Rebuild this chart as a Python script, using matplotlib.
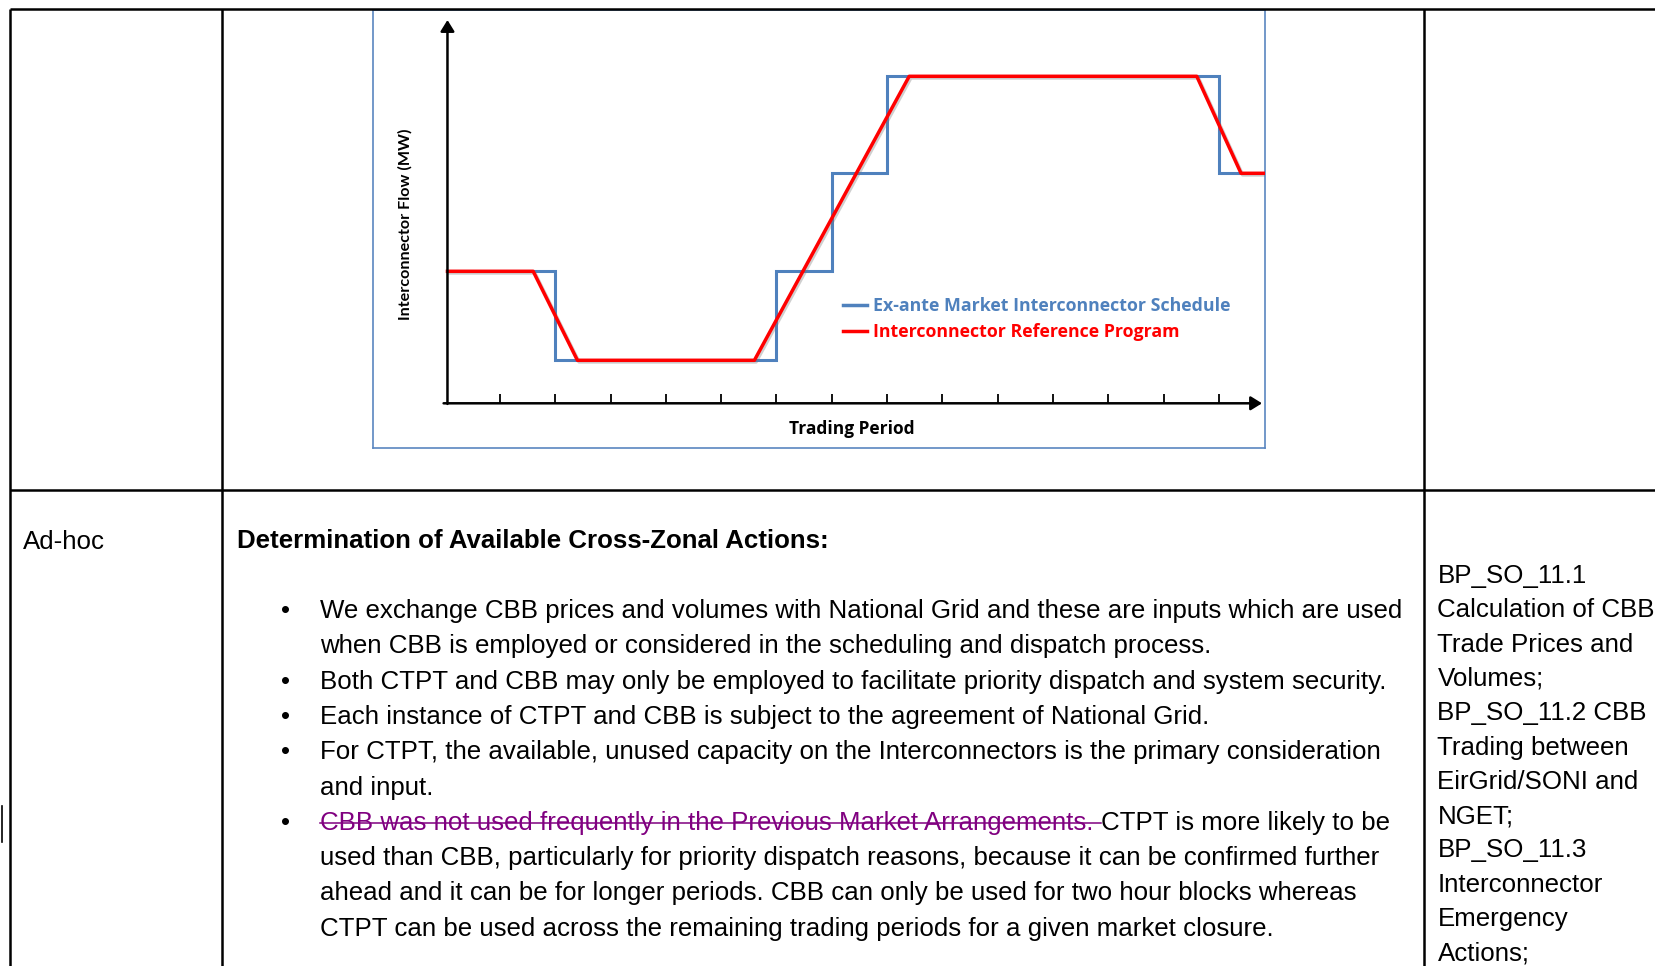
import numpy as np
import matplotlib
matplotlib.use("Agg")
import matplotlib.pyplot as plt
import matplotlib.patheffects as pe
from matplotlib.lines import Line2D

# ---------------- chart data ----------------
period_edges = [0.05, 1, 2, 3, 4, 5, 6, 7, 8, 9, 10, 11, 12, 13, 14, 14.84]
schedule_mw = [132, 132, 43, 43, 43, 43, 132, 230, 327, 327, 327, 327, 327, 327, 230, 230]
ref_x = [0.05, 1.6, 2.4, 5.6, 8.4, 13.6, 14.4, 14.84]
ref_mw = [132, 132, 43, 43, 327, 327, 230, 230]
tick_periods = list(range(1, 15))
series_labels = ["Ex-ante Market Interconnector Schedule", "Interconnector Reference Program"]
series_colors = ["#4F81BD", "#FF0000"]
y_title = "Interconnector Flow (MW)"
x_title = "Trading Period"

# ---------------- table text ----------------
row_label = "Ad-hoc"
heading = "Determination of Available Cross-Zonal Actions:"
body_lines = [
    "We exchange CBB prices and volumes with National Grid and these are inputs which are used",
    "when CBB is employed or considered in the scheduling and dispatch process.",
    "Both CTPT and CBB may only be employed to facilitate priority dispatch and system security.",
    "Each instance of CTPT and CBB is subject to the agreement of National Grid.",
    "For CTPT, the available, unused capacity on the Interconnectors is the primary consideration",
    "and input.",
    None,
    "used than CBB, particularly for priority dispatch reasons, because it can be confirmed further",
    "ahead and it can be for longer periods. CBB can only be used for two hour blocks whereas",
    "CTPT can be used across the remaining trading periods for a given market closure.",
]
bullet_flags = [True, False, True, True, True, False, True, False, False, False]
struck_text = "CBB was not used frequently in the Previous Market Arrangements."
after_struck = "CTPT is more likely to be"
ref_lines = [
    "BP_SO_11.1", "Calculation of CBB", "Trade Prices and", "Volumes;",
    "BP_SO_11.2 CBB", "Trading between", "EirGrid/SONI and", "NGET;",
    "BP_SO_11.3", "Interconnector", "Emergency", "Actions;",
]

W, H = 1656, 966
fig = plt.figure(figsize=(W / 100, H / 100), dpi=100)
fig.patch.set_facecolor("white")

# ---------------- embedded chart ----------------
fx0, fx1, fy0, fy1 = 373.5, 1265.5, 9.5, 448.0
ax = fig.add_axes([fx0 / W, 1 - fy1 / H, (fx1 - fx0) / W, (fy1 - fy0) / H])
x_origin, x_step, y_origin = 444.7, 55.3, 403.3
ax.set_xlim((fx0 - x_origin) / x_step, (fx1 - x_origin) / x_step)
ax.set_ylim(y_origin - fy1, y_origin - fy0)
ax.set_xticks([])
ax.set_yticks([])
for s in ax.spines.values():
    s.set_color("#5A86C0")
    s.set_linewidth(1.2)

ax.step(period_edges, schedule_mw, where="post", color=series_colors[0], lw=2.2,
        solid_joinstyle="miter", zorder=3)
ax.plot(ref_x, ref_mw, color=series_colors[1], lw=2.5, zorder=4,
        path_effects=[pe.SimpleLineShadow(offset=(1.2, -1.2), shadow_color="#777777", alpha=0.35),
                      pe.Normal()])

arrow_kw = dict(arrowstyle="-|>,head_length=0.42,head_width=0.26", lw=1.8, color="black",
                shrinkA=0, shrinkB=0, mutation_scale=16)
ax.annotate("", xy=(0.05, 383.3), xytext=(0.05, -0.6), arrowprops=arrow_kw, zorder=5)
ax.annotate("", xy=(14.78, 0), xytext=(-0.02, 0), arrowprops=arrow_kw, zorder=5)
ax.vlines(tick_periods, 0, 9, color="black", lw=1.3, zorder=5)

ax.text((405.5 - x_origin) / x_step, y_origin - 224.7, y_title, rotation=90,
        ha="center", va="center", family="Lato", weight="bold", fontsize=11.6)
ax.text((851.5 - x_origin) / x_step, y_origin - 434, x_title, ha="center", va="baseline",
        family="Open Sans", weight="bold", fontsize=12.5)

handles = [Line2D([], [], color=c, lw=2.5) for c in series_colors]
leg = ax.legend(handles, series_labels, loc="center left",
                bbox_to_anchor=((843.5 - x_origin) / x_step, y_origin - 319),
                bbox_transform=ax.transData, frameon=False, borderpad=0, borderaxespad=0,
                handlelength=1.35, handletextpad=0.3, labelspacing=0.46,
                prop=dict(family="Open Sans", weight="bold", size=12.75))
for t, c in zip(leg.get_texts(), series_colors):
    t.set_color(c)

# ---------------- document / table overlay ----------------
doc = fig.add_axes([0, 0, 1, 1])
doc.set_xlim(0, W)
doc.set_ylim(H, 0)
doc.axis("off")

lk = dict(color="black", lw=1.8, solid_capstyle="butt")
doc.plot([10, W], [8.5, 8.5], **lk)
doc.plot([10, W], [490, 490], **lk)
for xv in [10.5, 222, 1424.5]:
    doc.plot([xv, xv], [8.5, H], **lk)
doc.plot([2, 2], [806, 842], color="black", lw=1.2)

fs = 18.6
body_font = dict(family="Liberation Sans", fontsize=fs, va="baseline", color="black")
doc.text(23, 549, row_label, **body_font)
doc.text(237, 548, heading, weight="bold", **body_font)

base0, step = 618, 35.3
text_x, bullet_x = 320, 286
for i, (line, bul) in enumerate(zip(body_lines, bullet_flags)):
    yb = base0 + step * i
    if bul:
        doc.text(bullet_x, yb, "\u2022", ha="center", **body_font)
    if line is not None:
        doc.text(text_x, yb, line, **body_font)
    else:
        t1 = doc.text(text_x, yb, struck_text, **{**body_font, "color": "#800080"})
        r = fig.canvas.get_renderer()
        w_struck = t1.get_window_extent(renderer=r).x1
        ta = doc.text(0, -100, "xx", **body_font)
        tb = doc.text(0, -100, "x x", **body_font)
        sp = tb.get_window_extent(renderer=r).width - ta.get_window_extent(renderer=r).width
        ta.remove()
        tb.remove()
        x_end = w_struck + sp
        doc.plot([text_x, x_end], [yb - 6.5, yb - 6.5], color="#800080", lw=1.1)
        doc.text(x_end, yb, after_struck, **body_font)

rbase0, rstep = 583, 34.3
for i, line in enumerate(ref_lines):
    doc.text(1437.5, rbase0 + rstep * i, line, **body_font)

fig.savefig("out.png", dpi=100)
